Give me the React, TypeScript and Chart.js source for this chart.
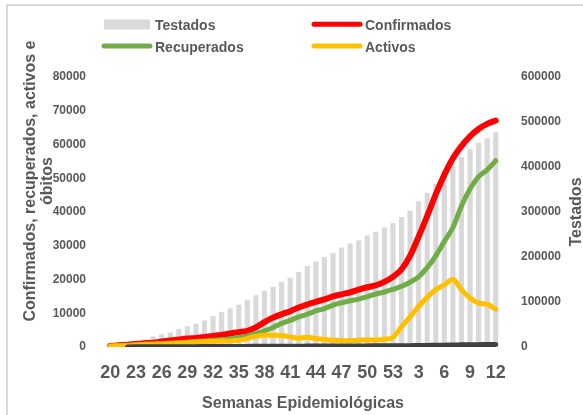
import React, { useEffect, useRef } from "react";
import { Chart, registerables } from "chart.js";

Chart.register(...registerables);

// ---- data ----
const weeks = [
  "20", "21", "22", "23", "24", "25", "26", "27", "28", "29", "30", "31", "32", "33", "34", "35", "36",
  "37", "38", "39", "40", "41", "42", "43", "44", "45", "46", "47", "48", "49", "50", "51", "52", "53",
  "1", "2", "3", "4", "5", "6", "7", "8", "9", "10", "11", "12",
];

const testados = [
  1500, 4000, 10500, 13400, 17000, 23500, 28000, 32000, 40000, 46000, 52000, 59000, 68500, 78000, 86000,
  94000, 104000, 115000, 125000, 134000, 145000, 154000, 167000, 180000, 190000, 200000, 209000, 221000,
  230000, 237000, 248000, 256000, 266000, 275000, 289000, 303000, 324000, 343000, 363000, 382000, 403000,
  422000, 440000, 454000, 464000, 477000,
];

const confirmados = [
  300, 500, 700, 900, 1100, 1300, 1600, 1900, 2200, 2500, 2700, 3000, 3300, 3600, 4000, 4400, 4800, 5800,
  7400, 8700, 9700, 10600, 11700, 12600, 13400, 14100, 15000, 15600, 16200, 17000, 17700, 18300, 19300,
  20800, 23000, 27000, 32700, 38800, 45200, 51000, 55900, 59500, 62400, 64600, 66100, 67100,
];

const recuperados = [
  0, 100, 200, 300, 450, 600, 800, 1000, 1200, 1400, 1600, 1800, 2000, 2200, 2400, 2800, 3300, 4000,
  4800, 5800, 7000, 7900, 8900, 9700, 10700, 11400, 12400, 13100, 13700, 14200, 14900, 15700, 16300,
  17100, 18000, 19200, 20800, 23500, 27000, 31300, 35400, 41800, 46800, 50500, 52500, 55200,
];

const activos = [
  300, 400, 500, 650, 800, 900, 1000, 1100, 1200, 1350, 1500, 1600, 1700, 1750, 1800, 2000, 2500, 3200,
  3500, 3500, 3400, 3000, 2600, 2900, 2500, 2200, 2000, 1900, 1900, 2000, 2100, 2100, 2300, 2800, 6000,
  8900, 12000, 14700, 17000, 18400, 20000, 17000, 14500, 13000, 12700, 11200,
];

const obitos = [
  null, null, 30, 40, 50, 60, 70, 80, 90, 100, 110, 120, 135, 150, 160, 170, 185, 200, 210, 220, 230, 240,
  250, 260, 270, 280, 290, 300, 310, 320, 330, 340, 350, 360, 380, 400, 430, 470, 510, 550, 590, 630, 670,
  700, 730, 760,
];

const leftTitle = ["Confirmados, recuperados, activos e", "óbitos"];
const rightTitle = "Testados";
const xTitle = "Semanas Epidemiológicas";

// ---- styles ----
const FONT = '"Liberation Sans", Arial, sans-serif';
const TEXT = "#595959";
const GRAY = "#D9D9D9";
const RED = "#FF0000";
const GREEN = "#70AD47";
const ORANGE = "#FFC000";
const DARK = "#404040";

const decorPlugin = {
  id: "decor",
  beforeDraw(chart: any) {
    const ctx = chart.ctx;
    ctx.save();
    ctx.fillStyle = "#D9D9D9";
    ctx.fillRect(6, 4, 577, 2);
    ctx.fillRect(6, 4, 2, 411);
    ctx.restore();
  },
  afterDraw(chart: any) {
    const ctx = chart.ctx;
    const ca = chart.chartArea;
    ctx.save();
    ctx.fillStyle = TEXT;
    ctx.font = `bold 16px ${FONT}`;
    ctx.textAlign = "center";
    ctx.textBaseline = "alphabetic";

    // left axis title (two lines, reading bottom to top)
    const leftPos = [35, 51.5];
    leftTitle.forEach((t, i) => {
      ctx.save();
      ctx.translate(leftPos[i], 181);
      ctx.rotate(-Math.PI / 2);
      ctx.fillText(t, 0, 0);
      ctx.restore();
    });

    // right axis title
    ctx.save();
    ctx.translate(581, (ca.top + ca.bottom) / 2);
    ctx.rotate(-Math.PI / 2);
    ctx.fillText(rightTitle, 0, 0);
    ctx.restore();

    // x axis title
    ctx.fillText(xTitle, (ca.left + ca.right) / 2, 408);

    // legend
    const ds = chart.data.datasets;
    ctx.font = `bold 14px ${FONT}`;
    ctx.textAlign = "left";
    const items = [
      { d: ds[0], kind: "box", x: 104, y: 24.5, tx: 155, by: 30 },
      { d: ds[1], kind: "line", x: 314, y: 24.3, tx: 365, by: 30 },
      { d: ds[2], kind: "line", x: 104, y: 46, tx: 155, by: 51.5 },
      { d: ds[3], kind: "line", x: 314, y: 46, tx: 365, by: 51.5 },
    ];
    items.forEach((it) => {
      if (it.kind === "box") {
        ctx.fillStyle = it.d.backgroundColor;
        ctx.fillRect(it.x, it.y - 5, 46, 10);
      } else {
        ctx.strokeStyle = it.d.borderColor;
        ctx.lineWidth = 5;
        ctx.lineCap = "round";
        ctx.beginPath();
        ctx.moveTo(it.x, it.y);
        ctx.lineTo(it.x + 46, it.y);
        ctx.stroke();
      }
      ctx.fillStyle = TEXT;
      ctx.fillText(it.d.label, it.tx, it.by);
    });
    ctx.restore();
  },
};

const lineDs = (label: string, data: any[], color: string, width: number, order: number) => ({
  type: "line" as const,
  label,
  data,
  yAxisID: "y",
  borderColor: color,
  backgroundColor: color,
  borderWidth: width,
  pointRadius: 0,
  pointHoverRadius: 0,
  tension: 0.35,
  borderCapStyle: "round" as const,
  borderJoinStyle: "round" as const,
  fill: false,
  spanGaps: false,
  order,
});

export default function App() {
  const ref = useRef<HTMLCanvasElement>(null);

  useEffect(() => {
    if (!ref.current) return;
    const tickFont = { family: FONT, size: 12, weight: "bold" as const };
    const chart = new Chart(ref.current, {
      type: "bar",
      data: {
        labels: weeks,
        datasets: [
          {
            type: "bar",
            label: "Testados",
            data: testados,
            yAxisID: "y1",
            backgroundColor: GRAY,
            borderWidth: 0,
            barPercentage: 0.6,
            categoryPercentage: 1,
            order: 5,
          } as any,
          lineDs("Confirmados", confirmados, RED, 6, 4),
          lineDs("Recuperados", recuperados, GREEN, 5, 3),
          lineDs("Activos", activos, ORANGE, 5, 2),
          lineDs("Óbitos", obitos, DARK, 5, 1),
        ],
      },
      options: {
        responsive: false,
        animation: false,
        devicePixelRatio: 1,
        layout: { padding: { top: 77, left: 0, right: 0, bottom: 0 } },
        plugins: { legend: { display: false }, tooltip: { enabled: false } },
        scales: {
          x: {
            type: "category",
            offset: true,
            grid: { display: false },
            border: { display: false },
            ticks: {
              autoSkip: false,
              maxRotation: 0,
              minRotation: 0,
              padding: 7,
              color: TEXT,
              font: { family: FONT, size: 18, weight: "bold" },
              callback: (_v: any, i: number) => (i % 3 === 0 ? weeks[i] : ""),
            },
            afterFit: (s: any) => {
              s.height = 68;
            },
          },
          y: {
            position: "left",
            min: 0,
            max: 80000,
            grid: { display: false },
            border: { display: false },
            ticks: {
              stepSize: 10000,
              padding: 12,
              color: TEXT,
              font: tickFont,
              callback: (v: any) => String(v),
            },
            afterFit: (s: any) => {
              s.width = 106;
            },
          },
          y1: {
            position: "right",
            min: 0,
            max: 600000,
            grid: { display: false },
            border: { display: false },
            ticks: {
              stepSize: 100000,
              padding: 13,
              color: TEXT,
              font: tickFont,
              callback: (v: any) => String(v),
            },
            afterFit: (s: any) => {
              s.width = 83;
            },
          },
        },
      } as any,
      plugins: [decorPlugin],
    });
    return () => chart.destroy();
  }, []);

  return (
    <div style={{ position: "absolute", left: 0, top: 0, width: 583, height: 415, background: "#fff" }}>
      <canvas ref={ref} width={583} height={415} style={{ display: "block", width: 583, height: 415 }} />
    </div>
  );
}
